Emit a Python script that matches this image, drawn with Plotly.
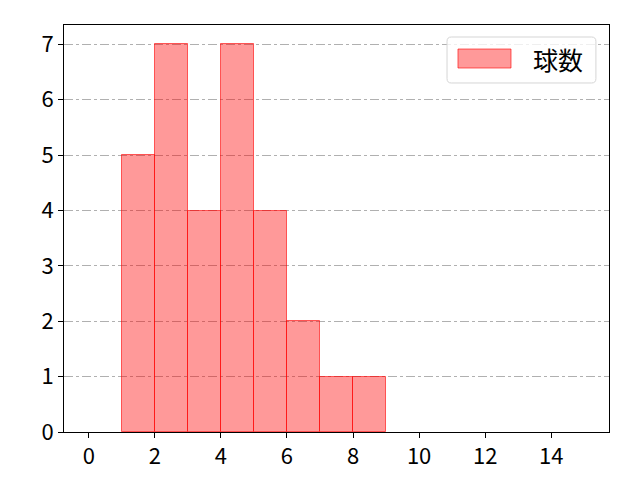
import plotly.graph_objects as go

bin_edges = [1, 2, 3, 4, 5, 6, 7, 8, 9]
counts = [5, 7, 4, 7, 4, 2, 1, 1]
series_name = "球数"
x_ticks = [0, 2, 4, 6, 8, 10, 12, 14]
y_ticks = [0, 1, 2, 3, 4, 5, 6, 7]

centers = [(a + b) / 2 for a, b in zip(bin_edges[:-1], bin_edges[1:])]
widths = [b - a for a, b in zip(bin_edges[:-1], bin_edges[1:])]

font_family = "Noto Sans CJK JP, Noto Sans, DejaVu Sans, sans-serif"
fill = "rgba(255,0,0,0.4)"
edge = "rgba(255,0,0,0.6)"

fig = go.Figure()
fig.add_trace(go.Bar(
    x=centers, y=counts, width=widths, name=series_name,
    marker=dict(color=fill, line=dict(color=edge, width=1)),
    showlegend=False, legendgroup="g",
))
# legend entry (text); its patch is drawn as a shape below
fig.add_trace(go.Scatter(
    x=[None], y=[None], mode="lines", name=series_name, legendgroup="g",
    line=dict(color="rgba(0,0,0,0)", width=0), showlegend=True, hoverinfo="skip",
))

# legend frame (rounded box, paper coordinates of the plot area)
x0, x1, y0, y1, r = 0.7028, 0.976, 0.8575, 0.9705, 0.008
ry = r * 545 / 407
path = (f"M {x0+r},{y0} L {x1-r},{y0} Q {x1},{y0} {x1},{y0+ry} L {x1},{y1-ry} "
        f"Q {x1},{y1} {x1-r},{y1} L {x0+r},{y1} Q {x0},{y1} {x0},{y1-ry} "
        f"L {x0},{y0+ry} Q {x0},{y0} {x0+r},{y0} Z")
fig.add_shape(type="path", path=path, xref="paper", yref="paper",
              fillcolor="rgba(255,255,255,0.8)", line=dict(color="#d5d5d5", width=1), layer="above")
fig.add_shape(type="rect", xref="paper", yref="paper", x0=0.7229, x1=0.8202, y0=0.8943, y1=0.941,
              fillcolor=fill, line=dict(color=edge, width=1), layer="above")

fig.update_layout(
    width=640, height=480,
    margin=dict(l=56, r=39, t=17, b=56, pad=0),
    plot_bgcolor="white", paper_bgcolor="white",
    font=dict(family=font_family, size=22, color="black"),
    bargap=0,
    legend=dict(
        x=0.745, y=0.97, xanchor="left", yanchor="top",
        borderwidth=0, bgcolor="rgba(0,0,0,0)",
        font=dict(size=25), itemwidth=53,
    ),
    showlegend=True,
)
fig.update_xaxes(
    range=[-0.75, 15.75], tickvals=x_ticks, ticktext=[str(v) for v in x_ticks],
    showline=True, linecolor="black", linewidth=1, mirror=True,
    ticks="outside", ticklen=5, tickcolor="black", showgrid=False, zeroline=False,
    tickfont=dict(size=22),
)
fig.update_yaxes(
    range=[0, 7.35], tickvals=y_ticks, ticktext=[str(v) for v in y_ticks],
    showline=True, linecolor="black", linewidth=1, mirror=True,
    ticks="outside", ticklen=5, tickcolor="black",
    showgrid=True, gridcolor="#b0b0b0", gridwidth=1, griddash="dashdot", zeroline=False,
    tickfont=dict(size=22),
)

fig.write_html("out.html")
